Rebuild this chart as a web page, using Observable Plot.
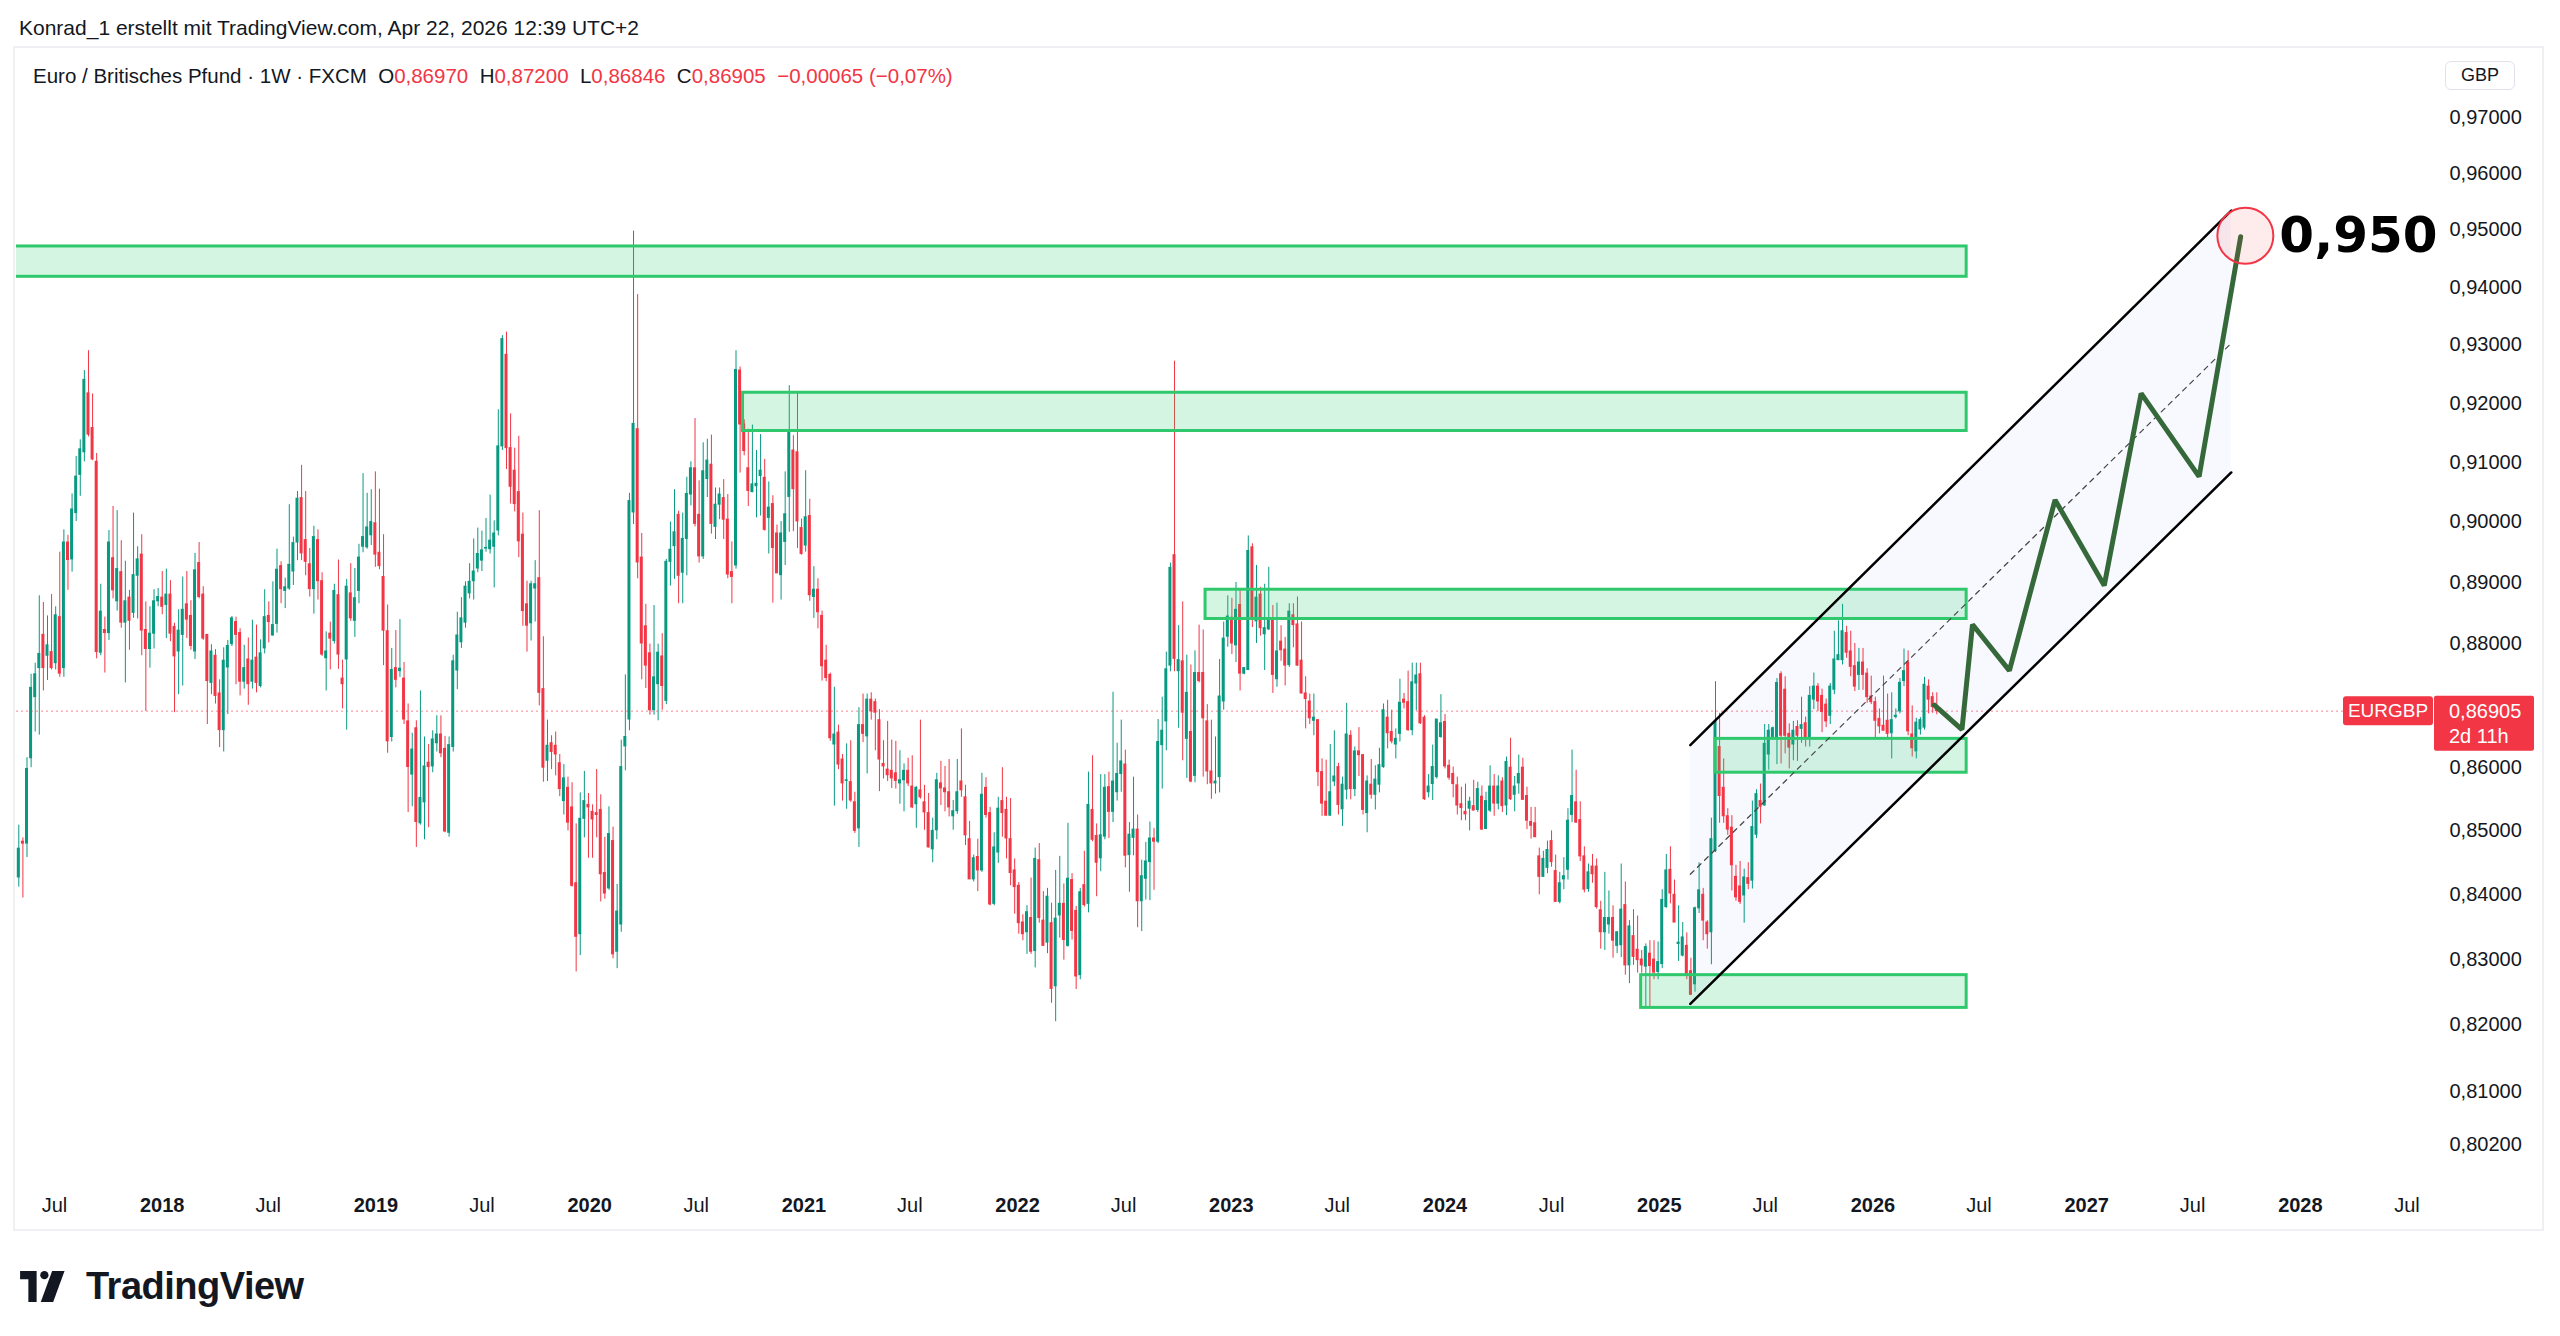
<!DOCTYPE html>
<html><head><meta charset="utf-8">
<script src="https://cdn.jsdelivr.net/npm/d3@7"></script>
<script src="https://cdn.jsdelivr.net/npm/@observablehq/plot@0.6"></script>
<style>
html,body{margin:0;padding:0;background:#fff;}
body{width:2560px;height:1336px;position:relative;overflow:hidden;font-family:"Liberation Sans",Arial,sans-serif;color:#131722;}
#header{position:absolute;left:19px;top:15px;font-size:21px;line-height:26px;white-space:pre;}
#pane{position:absolute;left:13px;top:46px;width:2531px;height:1185px;border:2px solid #eef0f3;box-sizing:border-box;}
#chart{position:absolute;left:16px;top:49px;}
#legend{position:absolute;left:33px;top:63px;font-size:20.5px;line-height:26px;white-space:pre;}
#legend .v{color:#F23645;}
#gbp{position:absolute;left:2445px;top:61px;width:70px;height:29px;border:1px solid #e0e3eb;border-radius:6px;box-sizing:border-box;font-size:18px;line-height:27px;text-align:center;background:#fff;}
#logo{position:absolute;left:20px;top:1265px;display:flex;align-items:center;}
#logo span{font-size:38px;font-weight:bold;margin-left:10px;letter-spacing:-0.5px;color:#131722;}
</style></head><body>
<div id="header">Konrad_1 erstellt mit TradingView.com, Apr 22, 2026 12:39 UTC+2</div>
<div id="pane"></div>
<div id="chart"></div>
<div id="legend"></div>
<div id="gbp">GBP</div>
<div id="logo"><svg width="56" height="31" viewBox="0 0 54 30"><path d="M0 0H16V30H8V8H0Z" fill="#131722"/><circle cx="23.5" cy="4" r="4" fill="#131722"/><path d="M31 0H43L32 30H20Z" fill="#131722"/></svg><span>TradingView</span></div>
<script>
// ---------------- DATA (weekly EUR/GBP candles) ----------------
const firstWeek = "2017-05-01";
const open = [
.8427,.8483,.8480,.8615,.8713,.8760,.8814,.8780,.8786,.8768,.8843,.8760,.8966,.8938,.9015,.9079,.9117,.9217,.9158,.9101,.8785,.8822,.8817,.8940,.8869,.8917,.8834,.8875,.8850,.8911,.8946,.8822,.8791,.8816,.8869,.8875,.8863,.8880,.8827,.8787,.8814,.8864,.8845,.8787,.8932,.8880,.8814,.8736,.8780,.8719,.8660,.8761,.8799,.8835,.8817,.8738,.8774,.8738,.8777,.8731,
.8792,.8845,.8813,.8832,.8927,.8886,.8890,.8918,.8966,.9040,.8970,.8930,.8889,.8970,.8902,.8776,.8816,.8804,.8879,.8743,.8774,.8882,.8837,.8886,.8959,.8958,.8978,.8998,.8949,.8909,.8820,.8649,.8760,.8755,.8743,.8674,.8589,.8663,.8512,.8545,.8608,.8602,.8639,.8653,.8630,.8497,.8633,.8756,.8802,.8834,.8882,.8902,.8923,.8936,.8956,.8955,.8959,.8986,
.9127,.9283,.9124,.9086,.9050,.8979,.8864,.8833,.8890,.8907,.8726,.8611,.8639,.8635,.8607,.8547,.8568,.8537,.8418,.8339,.8519,.8541,.8530,.8528,.8533,.8434,.8410,.8484,.8312,.8354,.8634,.8677,.9016,.9156,.8941,.8828,.8784,.8692,.8734,.8779,.8707,.8934,.8960,.9012,.8916,.8972,.9046,.9090,.9012,.8943,.9072,.9096,.8992,.9029,.9040,.9004,.8917,.8928,
.9256,.9164,.9090,.9050,.9060,.9077,.9074,.9007,.9030,.8981,.8912,.8967,.9042,.9120,.9117,.8990,.8961,.9010,.8876,.8888,.8845,.8772,.8749,.8637,.8656,.8613,.8579,.8577,.8545,.8504,.8668,.8650,.8709,.8705,.8676,.8606,.8597,.8595,.8591,.8575,.8580,.8595,.8570,.8542,.8564,.8545,.8528,.8471,.8501,.8575,.8567,.8561,.8523,.8531,.8578,.8553,.8487,.8424,
.8459,.8438,.8568,.8528,.8386,.8466,.8547,.8533,.8487,.8438,.8414,.8357,.8342,.8364,.8313,.8454,.8360,.8326,.8356,.8259,.8368,.8386,.8321,.8423,.8375,.8276,.8415,.8386,.8533,.8492,.8457,.8491,.8569,.8530,.8561,.8590,.8605,.8462,.8489,.8502,.8390,.8425,.8451,.8488,.8483,.8636,.8674,.8764,.8945,.8755,.8771,.8646,.8657,.8587,.8752,.8752,.8674,.8594,
.8575,.8585,.8706,.8811,.8842,.8797,.8863,.8751,.8757,.8958,.8836,.8880,.8815,.8823,.8839,.8742,.8803,.8790,.8765,.8846,.8831,.8772,.8719,.8706,.8675,.8676,.8593,.8546,.8524,.8578,.8601,.8534,.8565,.8651,.8566,.8626,.8620,.8528,.8573,.8557,.8573,.8601,.8680,.8657,.8637,.8654,.8709,.8705,.8660,.8735,.8750,.8680,.8561,.8574,.8585,.8649,.8673,.8603,.8590,.8572,
.8542,.8530,.8535,.8539,.8533,.8554,.8503,.8532,.8570,.8543,.8578,.8540,.8600,.8557,.8575,.8600,.8555,.8514,.8512,.8460,.8428,.8442,.8484,.8437,.8389,.8424,.8439,.8525,.8545,.8517,.8460,.8409,.8444,.8444,.8376,.8342,.8354,.8364,.8321,.8322,.8384,.8291,.8336,.8315,.8300,.8289,.8309,.8300,.8281,.8293,.8381,.8439,.8400,.8324,.8306,.8321,.8282,.8262,.8379,
.8400,.8357,.8342,.8468,.8633,.8568,.8523,.8505,.8428,.8413,.8399,.8426,.8422,.8494,.8547,.8540,.8621,.8647,.8648,.8750,.8725,.8654,.8637,.8665,.8662,.8671,.8648,.8709,.8730,.8715,.8701,.8683,.8725,.8773,.8773,.8817,.8787,.8763,.8749,.8769,.8751,.8714,.8705,.8678,.8667,.8675,.8655,.8681,.8690,.8739,.8769,.8653,.8626,.8661,.8664,.8730,.8713,.8697];
const high = [
.8509,.8489,.8616,.8750,.8768,.8878,.8867,.8845,.8880,.8860,.8950,.8987,.8978,.9047,.9110,.9138,.9256,.9290,.9216,.9115,.8897,.8843,.8986,.9026,.9019,.8969,.8935,.8887,.9015,.8959,.8979,.8868,.8860,.8888,.8890,.8918,.8922,.8903,.8833,.8855,.8909,.8918,.8870,.8948,.8966,.8893,.8814,.8798,.8790,.8741,.8793,.8805,.8844,.8843,.8824,.8797,.8809,.8838,.8830,.8806,
.8888,.8868,.8901,.8955,.8934,.8907,.9029,.8975,.9051,.9095,.9051,.8956,.8993,.8987,.8916,.8819,.8835,.8897,.8937,.8773,.8905,.8931,.8923,.8963,.9081,.9048,.9054,.9084,.9055,.8979,.8863,.8792,.8821,.8839,.8769,.8702,.8655,.8675,.8723,.8649,.8637,.8659,.8683,.8683,.8650,.8649,.8781,.8851,.8875,.8901,.8931,.8972,.8990,.8985,.9006,.9045,.9002,.9189,
.9316,.9322,.9182,.9124,.9144,.9015,.8902,.8902,.8936,.9019,.8811,.8676,.8651,.8657,.8621,.8605,.8585,.8576,.8511,.8560,.8594,.8559,.8541,.8597,.8557,.8490,.8538,.8506,.8416,.8644,.8749,.9048,.9498,.9387,.8981,.8864,.8799,.8862,.8799,.8816,.8938,.9000,.9054,.9018,.9015,.9075,.9101,.9174,.9069,.9133,.9139,.9146,.9057,.9057,.9071,.9046,.8967,.9290,
.9262,.9172,.9156,.9163,.9120,.9147,.9105,.9067,.9044,.8995,.9001,.9084,.9230,.9145,.9217,.9005,.9086,.9038,.8926,.8906,.8853,.8797,.8752,.8729,.8668,.8621,.8638,.8643,.8561,.8696,.8718,.8718,.8720,.8710,.8693,.8643,.8674,.8644,.8642,.8627,.8606,.8615,.8619,.8570,.8676,.8572,.8559,.8520,.8591,.8610,.8602,.8613,.8548,.8613,.8662,.8572,.8515,.8462,
.8487,.8591,.8584,.8537,.8497,.8553,.8600,.8553,.8551,.8456,.8419,.8369,.8383,.8426,.8473,.8480,.8405,.8410,.8387,.8438,.8460,.8417,.8512,.8433,.8382,.8410,.8468,.8593,.8619,.8511,.8589,.8589,.8593,.8721,.8639,.8676,.8628,.8513,.8585,.8525,.8454,.8482,.8514,.8504,.8677,.8713,.8786,.8932,.9272,.8829,.8868,.8781,.8765,.8788,.8830,.8822,.8701,.8676,
.8649,.8774,.8835,.8878,.8874,.8900,.8889,.8761,.8977,.8964,.8928,.8892,.8897,.8925,.8862,.8866,.8829,.8810,.8865,.8865,.8876,.8835,.8746,.8718,.8718,.8677,.8614,.8612,.8637,.8659,.8607,.8585,.8703,.8659,.8633,.8664,.8620,.8587,.8613,.8603,.8631,.8702,.8708,.8692,.8662,.8742,.8719,.8755,.8768,.8768,.8768,.8683,.8589,.8636,.8677,.8717,.8685,.8612,.8601,.8585,
.8569,.8574,.8553,.8580,.8577,.8571,.8561,.8603,.8589,.8587,.8584,.8617,.8647,.8586,.8620,.8615,.8569,.8537,.8537,.8473,.8468,.8484,.8500,.8462,.8435,.8458,.8535,.8628,.8596,.8546,.8475,.8448,.8463,.8456,.8390,.8435,.8406,.8383,.8342,.8448,.8420,.8360,.8377,.8367,.8314,.8324,.8329,.8329,.8327,.8408,.8463,.8475,.8423,.8383,.8357,.8341,.8302,.8381,.8450,
.8410,.8360,.8520,.8738,.8687,.8614,.8535,.8524,.8446,.8452,.8440,.8450,.8547,.8565,.8574,.8669,.8669,.8665,.8743,.8754,.8746,.8670,.8674,.8675,.8713,.8681,.8730,.8752,.8735,.8726,.8710,.8735,.8820,.8837,.8864,.8828,.8820,.8800,.8792,.8792,.8759,.8747,.8713,.8694,.8747,.8718,.8720,.8694,.8743,.8791,.8788,.8699,.8679,.8680,.8745,.8741,.8720,.8720];
const low = [
.8412,.8395,.8458,.8600,.8657,.8652,.8723,.8740,.8757,.8757,.8745,.8745,.8887,.8917,.9001,.9043,.9101,.9143,.9103,.8775,.8780,.8752,.8805,.8873,.8853,.8825,.8736,.8789,.8841,.8840,.8780,.8690,.8760,.8791,.8860,.8847,.8808,.8803,.8688,.8717,.8731,.8808,.8789,.8774,.8873,.8805,.8669,.8717,.8702,.8632,.8625,.8685,.8795,.8733,.8715,.8726,.8700,.8726,.8720,.8728,
.8783,.8801,.8812,.8817,.8865,.8857,.8887,.8895,.8936,.8936,.8911,.8876,.8848,.8871,.8779,.8723,.8757,.8799,.8758,.8694,.8660,.8836,.8810,.8865,.8949,.8955,.8961,.8925,.8921,.8764,.8623,.8641,.8728,.8745,.8669,.8529,.8538,.8474,.8509,.8486,.8505,.8592,.8625,.8616,.8497,.8490,.8625,.8725,.8792,.8825,.8873,.8871,.8916,.8918,.8950,.8947,.8891,.8977,
.9120,.9088,.9030,.9017,.8941,.8828,.8786,.8804,.8835,.8699,.8577,.8578,.8597,.8587,.8554,.8525,.8500,.8412,.8281,.8306,.8489,.8457,.8457,.8489,.8389,.8393,.8407,.8301,.8286,.8342,.8595,.8659,.8996,.8906,.8741,.8727,.8684,.8684,.8675,.8692,.8701,.8894,.8905,.8865,.8865,.8911,.9027,.8992,.8932,.8938,.9041,.8980,.8971,.9004,.8971,.8906,.8865,.8922,
.9082,.9111,.9026,.9049,.9007,.9010,.8985,.8947,.8866,.8915,.8871,.8928,.8983,.8984,.8956,.8945,.8950,.8869,.8841,.8824,.8739,.8738,.8642,.8539,.8597,.8547,.8534,.8545,.8496,.8474,.8640,.8590,.8676,.8627,.8562,.8582,.8578,.8567,.8566,.8542,.8530,.8570,.8535,.8504,.8550,.8501,.8473,.8450,.8486,.8540,.8530,.8522,.8501,.8526,.8553,.8477,.8424,.8420,
.8405,.8435,.8520,.8383,.8383,.8449,.8490,.8456,.8414,.8370,.8339,.8329,.8308,.8308,.8287,.8356,.8320,.8309,.8233,.8205,.8333,.8299,.8319,.8330,.8254,.8269,.8381,.8372,.8483,.8397,.8436,.8486,.8488,.8513,.8547,.8561,.8442,.8404,.8461,.8349,.8343,.8392,.8391,.8407,.8480,.8566,.8627,.8754,.8754,.8663,.8611,.8583,.8576,.8576,.8736,.8585,.8573,.8550,
.8558,.8560,.8692,.8794,.8782,.8769,.8723,.8749,.8756,.8826,.8800,.8812,.8756,.8821,.8719,.8729,.8771,.8731,.8761,.8793,.8763,.8718,.8662,.8669,.8651,.8570,.8523,.8523,.8523,.8570,.8525,.8507,.8549,.8549,.8554,.8586,.8525,.8497,.8550,.8533,.8560,.8599,.8630,.8638,.8614,.8641,.8694,.8658,.8651,.8691,.8669,.8548,.8552,.8548,.8582,.8647,.8598,.8580,.8552,.8525,
.8516,.8516,.8500,.8532,.8529,.8501,.8502,.8529,.8523,.8533,.8529,.8524,.8548,.8530,.8558,.8548,.8502,.8487,.8490,.8400,.8427,.8433,.8443,.8389,.8386,.8408,.8423,.8513,.8512,.8452,.8403,.8404,.8418,.8378,.8316,.8314,.8339,.8302,.8309,.8303,.8276,.8263,.8291,.8279,.8279,.8228,.8228,.8269,.8269,.8286,.8379,.8386,.8357,.8297,.8304,.8269,.8245,.8250,.8371,
.8329,.8316,.8292,.8466,.8512,.8512,.8493,.8406,.8390,.8385,.8356,.8408,.8409,.8488,.8511,.8539,.8596,.8647,.8605,.8606,.8622,.8598,.8611,.8610,.8639,.8633,.8633,.8693,.8690,.8656,.8664,.8669,.8717,.8772,.8765,.8776,.8746,.8722,.8724,.8724,.8703,.8701,.8646,.8654,.8659,.8646,.8614,.8678,.8686,.8730,.8651,.8617,.8614,.8652,.8660,.8686,.8687,.86846];
const close = [
.8472,.8480,.8598,.8728,.8750,.8783,.8760,.8797,.8760,.8846,.8751,.8966,.8937,.9021,.9076,.9122,.9240,.9147,.9105,.8786,.8852,.8817,.8966,.8887,.8922,.8834,.8869,.8837,.8912,.8938,.8821,.8791,.8816,.8869,.8876,.8860,.8880,.8816,.8779,.8821,.8855,.8839,.8796,.8920,.8876,.8808,.8739,.8787,.8715,.8660,.8772,.8796,.8841,.8814,.8738,.8760,.8734,.8772,.8736,.8784,
.8843,.8835,.8830,.8921,.8889,.8892,.8929,.8965,.9039,.8948,.8934,.8889,.8975,.8902,.8782,.8787,.8808,.8886,.8782,.8734,.8893,.8841,.8874,.8941,.8975,.8991,.9000,.8946,.8927,.8821,.8642,.8757,.8741,.8759,.8677,.8601,.8629,.8514,.8552,.8602,.8601,.8645,.8653,.8623,.8499,.8636,.8771,.8813,.8841,.8893,.8901,.8918,.8947,.8953,.8957,.8969,.8981,.9127,
.9310,.9124,.9059,.9030,.8968,.8853,.8829,.8897,.8897,.8720,.8600,.8635,.8625,.8621,.8566,.8583,.8513,.8414,.8335,.8519,.8547,.8537,.8518,.8525,.8432,.8402,.8495,.8308,.8374,.8601,.8649,.9035,.9165,.8933,.8800,.8764,.8692,.8745,.8785,.8731,.8934,.8954,.8983,.8911,.8972,.9047,.9090,.8997,.8943,.9085,.9103,.8997,.9029,.9046,.9004,.8913,.8909,.9257,
.9164,.9119,.9052,.9063,.9064,.9086,.8987,.9024,.8957,.8915,.8981,.9013,.9150,.9055,.9001,.8947,.9008,.8879,.8888,.8851,.8763,.8744,.8647,.8653,.8605,.8575,.8580,.8548,.8500,.8668,.8654,.8709,.8690,.8688,.8613,.8602,.8588,.8583,.8579,.8580,.8595,.8575,.8537,.8568,.8553,.8529,.8474,.8500,.8580,.8567,.8561,.8537,.8531,.8561,.8564,.8493,.8424,.8457,
.8438,.8557,.8525,.8385,.8474,.8535,.8528,.8488,.8434,.8412,.8356,.8339,.8373,.8312,.8456,.8364,.8321,.8397,.8255,.8363,.8386,.8330,.8425,.8344,.8274,.8404,.8384,.8541,.8486,.8450,.8493,.8568,.8530,.8578,.8590,.8610,.8461,.8494,.8502,.8390,.8429,.8452,.8488,.8483,.8641,.8659,.8758,.8924,.8775,.8773,.8688,.8720,.8578,.8752,.8739,.8679,.8594,.8575,
.8578,.8714,.8808,.8844,.8800,.8855,.8751,.8760,.8952,.8843,.8875,.8825,.8825,.8837,.8749,.8787,.8789,.8764,.8852,.8830,.8764,.8719,.8710,.8679,.8680,.8593,.8543,.8524,.8561,.8586,.8541,.8573,.8653,.8566,.8626,.8620,.8533,.8578,.8557,.8581,.8604,.8692,.8655,.8642,.8646,.8704,.8704,.8660,.8737,.8748,.8671,.8550,.8570,.8601,.8677,.8671,.8602,.8584,.8574,.8540,
.8536,.8526,.8546,.8532,.8566,.8502,.8547,.8570,.8543,.8570,.8539,.8609,.8550,.8570,.8590,.8549,.8516,.8508,.8490,.8428,.8456,.8470,.8451,.8389,.8418,.8429,.8516,.8555,.8513,.8460,.8408,.8435,.8432,.8381,.8342,.8364,.8364,.8329,.8342,.8377,.8291,.8351,.8304,.8299,.8291,.8319,.8290,.8280,.8296,.8392,.8438,.8402,.8357,.8326,.8334,.8275,.8246,.8379,.8407,
.8360,.8339,.8487,.8673,.8555,.8523,.8502,.8446,.8396,.8389,.8427,.8417,.8506,.8558,.8538,.8638,.8659,.8663,.8736,.8651,.8651,.8632,.8659,.8651,.8668,.8647,.8715,.8730,.8706,.8689,.8674,.8730,.8774,.8781,.8820,.8785,.8762,.8730,.8769,.8749,.8713,.8705,.8675,.8666,.8659,.8654,.8676,.8683,.8736,.8755,.8658,.8631,.8672,.8676,.8733,.8709,.8697,.86905];

// Support / resistance zones (green rectangles)
const zoneStart = ["2017-04-01", "2020-09-19", "2022-11-18", "2025-04-07", "2024-12-01"];
const zoneEnd   = ["2026-06-10", "2026-06-10", "2026-06-10", "2026-06-10", "2026-06-10"];
const zoneLow   = [0.9418, 0.9153, 0.8840, 0.8592, 0.8226];
const zoneHigh  = [0.9471, 0.9218, 0.8888, 0.8646, 0.8276];

// Rising channel
const channelDates = ["2025-02-23", "2027-09-05"];
const channelUpper = [0.8636, 0.9534];
const channelLower = [0.8232, 0.9083];
const channelMid   = [0.8432, 0.9303];

// Projected zig-zag path
const pathDates  = ["2026-04-16", "2026-06-02", "2026-06-20", "2026-08-22", "2026-11-08", "2027-01-31", "2027-04-04", "2027-07-12", "2027-09-21"];
const pathValues = [0.8700, 0.8661, 0.8831, 0.8756, 0.9037, 0.8895, 0.9217, 0.9076, 0.9488];

// Target marker
const targetDate = "2027-09-29";
const targetValue = 0.949;
const targetLabel = "0,950";

// Axis ticks
const xTickDates  = ["2017-07-01","2018-01-01","2018-07-01","2019-01-01","2019-07-01","2020-01-01","2020-07-01","2021-01-01","2021-07-01","2022-01-01","2022-07-01","2023-01-01","2023-07-01","2024-01-01","2024-07-01","2025-01-01","2025-07-01","2026-01-01","2026-07-01","2027-01-01","2027-07-01","2028-01-01","2028-07-01"];
const xTickLabels = ["Jul","2018","Jul","2019","Jul","2020","Jul","2021","Jul","2022","Jul","2023","Jul","2024","Jul","2025","Jul","2026","Jul","2027","Jul","2028","Jul"];
const yTicks = [0.97, 0.96, 0.95, 0.94, 0.93, 0.92, 0.91, 0.90, 0.89, 0.88, 0.86, 0.85, 0.84, 0.83, 0.82, 0.81, 0.802];

// ---------------- BUILD ----------------
const DAY = 864e5;
const up = "#089981", down = "#F23645";
const n = Math.min(open.length, high.length, low.length, close.length);
const t0 = Date.parse(firstWeek);
const candles = d3.range(n).map(i => ({date: new Date(t0 + i * 7 * DAY), open: open[i], high: high[i], low: low[i], close: close[i]}));
const ups = candles.filter(d => d.close >= d.open);
const downs = candles.filter(d => d.close < d.open);
const last = candles[n - 1], prev = candles[n - 2];

const zones = zoneStart.map((s, i) => ({x1: new Date(s), x2: new Date(zoneEnd[i]), y1: zoneLow[i], y2: zoneHigh[i]}));
const channel = channelDates.map((d, i) => ({date: new Date(d), upper: channelUpper[i], lower: channelLower[i], mid: channelMid[i]}));
const path = pathDates.map((d, i) => ({date: new Date(d), v: pathValues[i]}));
const target = [{date: new Date(targetDate), v: targetValue, label: targetLabel}];
const xticks = xTickDates.map((d, i) => ({date: new Date(d), label: xTickLabels[i]}));

const fmt = v => d3.format(".5f")(v).replace(".", ",");
const half = 2.55 * DAY;
const bodies = (rows, color) => Plot.rect(rows, {
  x1: d => new Date(+d.date - half), x2: d => new Date(+d.date + half),
  y1: "open", y2: "close", fill: color, insetTop: -0.5, insetBottom: -0.5
});
const wicks = (rows, color) => Plot.ruleX(rows, {x: "date", y1: "low", y2: "high", stroke: color, strokeWidth: 1});

const W = 2525, H = 1179;
const chart = Plot.plot({
  width: W, height: H,
  marginLeft: 0, marginRight: 101, marginTop: 0, marginBottom: 48,
  style: {fontFamily: "'Liberation Sans', Arial, sans-serif", background: "transparent", overflow: "visible", color: "#131722"},
  x: {type: "utc", domain: [new Date(firstWeek), candles[n - 1].date], range: [2.3, 1920.3], axis: null},
  y: {type: "log", domain: [0.81, 0.97], range: [1041.8, 67.9], axis: null},
  marks: [
    Plot.areaY(channel, {x: "date", y1: "lower", y2: "upper", fill: "#5d6dff", fillOpacity: 0.045}),
    Plot.ruleY([last.close], {stroke: "#F23645", strokeOpacity: 0.6, strokeDasharray: "2,3", strokeWidth: 1}),
    wicks(ups, up), wicks(downs, down),
    bodies(ups, up), bodies(downs, down),
    Plot.rect(zones, {x1: "x1", x2: "x2", y1: "y1", y2: "y2", fill: "#2ecc71", fillOpacity: 0.2, stroke: "#2fc86c", strokeWidth: 3, clip: true}),
    Plot.line(channel, {x: "date", y: "upper", stroke: "#000", strokeWidth: 2.5}),
    Plot.line(channel, {x: "date", y: "lower", stroke: "#000", strokeWidth: 2.5}),
    Plot.line(channel, {x: "date", y: "mid", stroke: "#444", strokeWidth: 1.2, strokeDasharray: "5,5"}),
    Plot.line(path, {x: "date", y: "v", stroke: "#36693a", strokeWidth: 5, strokeLinejoin: "miter", strokeLinecap: "round"}),
    Plot.dot(target, {x: "date", y: "v", r: 28, fill: "#F23645", fillOpacity: 0.1, stroke: "#F23645", strokeWidth: 2}),
    Plot.text(target, {x: "date", y: "v", text: "label", dx: 34, textAnchor: "start", fontSize: 50, fontWeight: "bold", fontFamily: "'DejaVu Sans', sans-serif", fill: "#000"}),
    Plot.text(yTicks, {y: d => d, text: fmt, frameAnchor: "right", dx: 9, textAnchor: "start", fontSize: 20, fill: "#131722"}),
    Plot.text(xticks.filter(d => d.label === "Jul"), {x: "date", text: "label", frameAnchor: "bottom", dy: 31, fontSize: 20, fill: "#131722"}),
    Plot.text(xticks.filter(d => d.label !== "Jul"), {x: "date", text: "label", frameAnchor: "bottom", dy: 31, fontSize: 20, fontWeight: "bold", fill: "#131722"})
  ]
});
document.getElementById("chart").appendChild(chart);

// Price label on the axis, positioned through the y scale
const yc = chart.scale("y").apply(last.close);
const svg = d3.select(chart);
const g = svg.append("g").attr("font-family", "'Liberation Sans', Arial, sans-serif").attr("font-size", 19).attr("text-anchor", "start");
g.append("rect").attr("x", 2327).attr("y", yc - 14.5).attr("width", 90).attr("height", 29).attr("rx", 3).attr("fill", "#F23645");
g.append("text").attr("x", 2372).attr("y", yc).attr("dy", "0.35em").attr("text-anchor", "middle").attr("fill", "#fff").text("EURGBP");
g.append("rect").attr("x", 2418).attr("y", yc - 15).attr("width", 100).attr("height", 55).attr("rx", 2).attr("fill", "#F23645");
g.append("text").attr("x", 2433).attr("y", yc).attr("dy", "0.35em").attr("text-anchor", "start").attr("fill", "#fff").attr("font-size", 20).text(fmt(last.close));
g.append("text").attr("x", 2433).attr("y", yc + 25).attr("dy", "0.35em").attr("text-anchor", "start").attr("fill", "#fff").attr("font-size", 20).text("2d 11h");

// Legend line from the data
const chg = last.close - prev.close;
const sign = v => (v < 0 ? "\u2212" : "+");
const legend = document.getElementById("legend");
legend.innerHTML =
  "Euro / Britisches Pfund \u00b7 1W \u00b7 FXCM  " +
  "O<span class='v'>" + fmt(last.open) + "</span>  " +
  "H<span class='v'>" + fmt(last.high) + "</span>  " +
  "L<span class='v'>" + fmt(last.low) + "</span>  " +
  "C<span class='v'>" + fmt(last.close) + "</span>  " +
  "<span class='v'>" + sign(chg) + fmt(Math.abs(chg)) + " (" + sign(chg) + d3.format(".2f")(Math.abs(chg / prev.close * 100)).replace(".", ",") + "%)</span>";
</script>
</body></html>
